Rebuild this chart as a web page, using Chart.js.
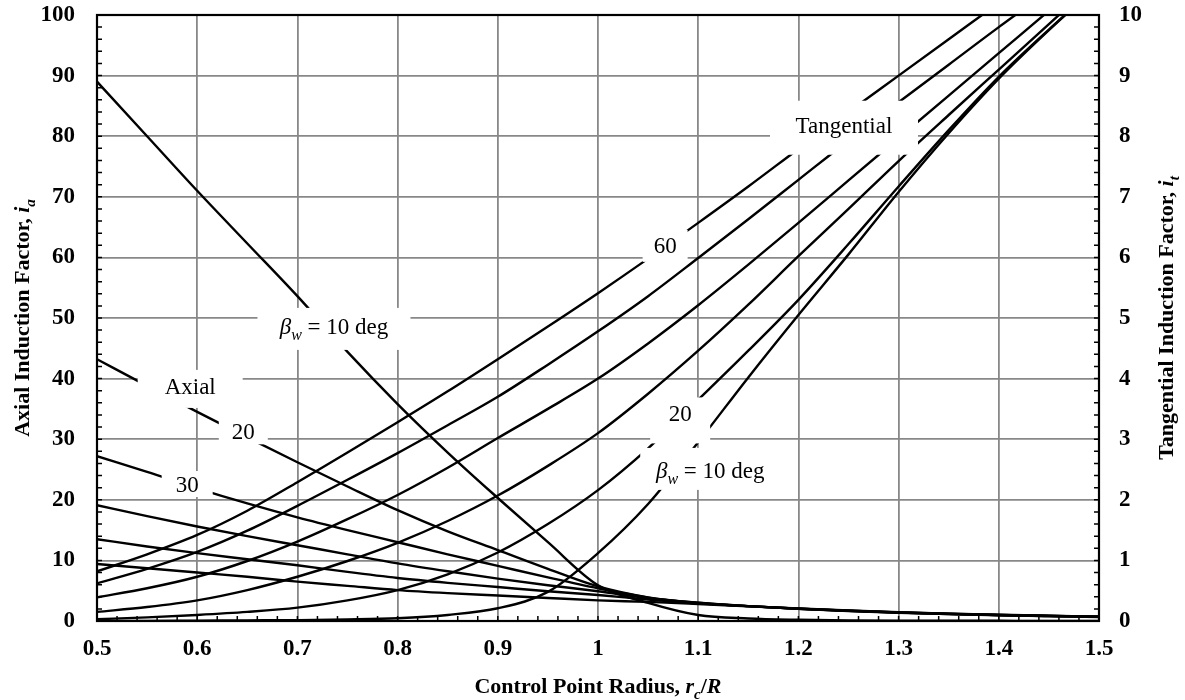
<!DOCTYPE html>
<html>
<head>
<meta charset="utf-8">
<script src="https://cdn.jsdelivr.net/npm/chart.js@4/dist/chart.umd.min.js"></script>
<style>
  body { margin: 0; background: #fff; }
  canvas { display: block; }
</style>
</head>
<body>
<canvas id="grafico" width="1185" height="700"></canvas>
<script>
// control point radius rc/R
const rc = [0.5, 0.55, 0.6, 0.65, 0.7, 0.75, 0.8, 0.85, 0.9, 0.95, 1.0, 1.05, 1.1, 1.15, 1.2, 1.25, 1.3, 1.35, 1.4, 1.45, 1.5];

// axial induction factor (left axis), one list per wake pitch angle
const ia10 = [89.0, 80.0, 71.0, 62.3, 53.6, 44.4, 35.8, 27.8, 20.3, 13.0, 5.9, 3.0, 1.0, 0.42, 0.2, 0.1, 0.06, 0.04, 0.03, 0.02, 0.02];
const ia20 = [43.2, 38.8, 34.5, 30.3, 26.2, 22.2, 18.3, 14.8, 11.7, 8.6, 5.7, 3.9, 3.0, 2.45, 2.0, 1.65, 1.37, 1.14, 0.95, 0.8, 0.67];
const ia30 = [27.2, 24.6, 21.9, 19.4, 17.1, 15.0, 13.0, 11.0, 9.1, 7.2, 5.4, 3.85, 3.0, 2.45, 2.02, 1.67, 1.39, 1.16, 0.97, 0.82, 0.69];
const ia40 = [19.1, 17.3, 15.6, 14.0, 12.5, 11.0, 9.5, 8.2, 7.0, 5.9, 4.9, 3.75, 2.95, 2.45, 2.03, 1.69, 1.41, 1.18, 0.99, 0.83, 0.7];
const ia50 = [13.5, 12.3, 11.2, 10.2, 9.2, 8.1, 7.1, 6.3, 5.6, 4.9, 4.3, 3.55, 2.9, 2.45, 2.05, 1.71, 1.43, 1.2, 1.0, 0.85, 0.72];
const ia60 = [9.4, 8.7, 8.0, 7.3, 6.5, 5.8, 5.1, 4.6, 4.2, 3.8, 3.4, 3.15, 2.8, 2.42, 2.06, 1.73, 1.45, 1.22, 1.02, 0.86, 0.73];

// tangential induction factor (right axis)
const it10 = [0.0, 0.0, 0.005, 0.01, 0.015, 0.025, 0.045, 0.10, 0.21, 0.48, 1.12, 1.93, 2.95, 4.02, 5.05, 6.05, 7.08, 8.05, 8.95, 9.75, 10.5];
const it20 = [0.03, 0.06, 0.10, 0.15, 0.22, 0.34, 0.51, 0.77, 1.13, 1.60, 2.16, 2.85, 3.65, 4.46, 5.30, 6.22, 7.17, 8.10, 8.98, 9.76, 10.5];
const it30 = [0.15, 0.23, 0.34, 0.51, 0.73, 0.99, 1.29, 1.65, 2.07, 2.56, 3.10, 3.75, 4.46, 5.22, 6.02, 6.80, 7.59, 8.35, 9.10, 9.85, 10.6];
const it40 = [0.39, 0.54, 0.73, 0.99, 1.31, 1.68, 2.08, 2.53, 3.02, 3.50, 4.00, 4.58, 5.21, 5.88, 6.57, 7.27, 7.97, 8.67, 9.37, 10.07, null];
const it50 = [0.62, 0.86, 1.14, 1.49, 1.90, 2.33, 2.77, 3.23, 3.70, 4.23, 4.78, 5.36, 5.99, 6.63, 7.28, 7.93, 8.56, 9.18, 9.80, 10.40, null];
const it60 = [0.82, 1.10, 1.42, 1.82, 2.29, 2.78, 3.28, 3.79, 4.32, 4.86, 5.41, 5.98, 6.57, 7.17, 7.79, 8.40, 9.00, 9.60, 10.2, null, null];

const SERIF = '"Liberation Serif", "Times New Roman", serif';

// curve labels, placed in data units of x / left axis; box size in px
const curveLabels = [
    { x: 0.7365, y: 48.2, w: 153, h: 42, dy: -2, parts: [{ t: 'β', it: true }, { t: 'w', it: true, sub: true }, { t: ' = 10 deg' }] },
    { x: 0.593, y: 38.3, w: 105, h: 38, dy: -2, parts: [{ t: 'Axial' }] },
    { x: 0.646, y: 31.3, w: 49, h: 26, dy: 0, parts: [{ t: '20' }] },
    { x: 0.590, y: 22.6, w: 51, h: 26, dy: 0, parts: [{ t: '30' }] },
    { x: 1.067, y: 61.9, w: 45, h: 32, dy: 0, parts: [{ t: '60' }] },
    { x: 1.2455, y: 81.4, w: 148, h: 54, dy: -2, parts: [{ t: 'Tangential' }] },
    { x: 1.082, y: 33.1, w: 60, h: 46, dy: -7, parts: [{ t: '20' }] },
    { x: 1.112, y: 25.1, w: 140, h: 42, dy: 2, parts: [{ t: 'β', it: true }, { t: 'w', it: true, sub: true }, { t: ' = 10 deg' }] }
];

function drawRich(ctx, parts, cx, cy, size, weight, rotate) {
    ctx.save();
    ctx.translate(cx, cy);
    if (rotate) ctx.rotate(-Math.PI / 2);
    var fontOf = p => (p.it ? 'italic ' : '') + weight + ' ' + (p.sub ? Math.round(size * 0.68) : size) + 'px ' + SERIF;
    var total = 0;
    parts.forEach(p => {
        ctx.font = fontOf(p);
        p.w = ctx.measureText(p.t).width;
        total += p.w;
    });
    var xx = -total / 2;
    ctx.fillStyle = '#000';
    ctx.textBaseline = 'alphabetic';
    ctx.textAlign = 'left';
    parts.forEach(p => {
        ctx.font = fontOf(p);
        ctx.fillText(p.t, xx, size * 0.33 + (p.sub ? size * 0.24 : 0));
        xx += p.w;
    });
    ctx.restore();
}

const frameAndLabels = {
    id: 'frameAndLabels',
    afterDatasetsDraw(chart) {
        const { ctx, chartArea: a } = chart;
        const x = chart.scales.x, y = chart.scales.y, y1 = chart.scales.y1;

        // white label boxes over lines and grid
        curveLabels.forEach(l => {
            var px = x.getPixelForValue(l.x);
            var py = y.getPixelForValue(l.y);
            ctx.fillStyle = '#fff';
            ctx.fillRect(px - l.w / 2, py - l.h / 2, l.w, l.h);
            drawRich(ctx, l.parts, px, py + l.dy, 23, 'normal', false);
        });

        // minor ticks, pointing inward
        ctx.save();
        ctx.strokeStyle = '#000';
        ctx.lineWidth = 1.5;
        ctx.beginPath();
        for (var i = 0; i <= 50; i++) {
            var px = x.getPixelForValue(0.5 + i * 0.02);
            ctx.moveTo(px, a.bottom);
            ctx.lineTo(px, a.bottom - 5);
        }
        for (var j = 0; j <= 50; j++) {
            var py = y.getPixelForValue(j * 2);
            ctx.moveTo(a.left, py);
            ctx.lineTo(a.left + 5, py);
            var py1 = y1.getPixelForValue(j * 0.2);
            ctx.moveTo(a.right, py1);
            ctx.lineTo(a.right - 5, py1);
        }
        ctx.stroke();

        // plot frame
        ctx.lineWidth = 2.2;
        ctx.strokeRect(a.left, a.top, a.right - a.left, a.bottom - a.top);
        ctx.restore();
    },
    afterDraw(chart) {
        const ctx = chart.ctx;
        drawRich(ctx, [{ t: 'Control Point Radius, ' }, { t: 'r', it: true }, { t: 'c', it: true, sub: true }, { t: '/' }, { t: 'R', it: true }], 598, 686, 22, 'bold', false);
        drawRich(ctx, [{ t: 'Axial Induction Factor, ' }, { t: 'i', it: true }, { t: 'a', it: true, sub: true }], 22, 318, 22, 'bold', true);
        drawRich(ctx, [{ t: 'Tangential Induction Factor, ' }, { t: 'i', it: true }, { t: 't', it: true, sub: true }], 1166, 318, 22, 'bold', true);
    }
};

function serie(vals, eixo) {
    return {
        data: rc.map((r, i) => ({ x: r, y: vals[i] })),
        yAxisID: eixo,
        borderColor: '#000',
        borderWidth: 2.4,
        pointRadius: 0,
        fill: false,
        cubicInterpolationMode: 'monotone',
        clip: 0
    };
}

const tickFont = { family: SERIF, size: 23, weight: 'bold' };

// fixed axis sizes so the plot area sits where the original one does
function fixVertical(width) {
    return s => {
        s.width = width;
        s.paddingTop = 0;
        s.paddingBottom = 0;
    };
}

new Chart(document.getElementById('grafico'), {
    type: 'line',
    data: {
        datasets: [
            serie(ia10, 'y'), serie(ia20, 'y'), serie(ia30, 'y'),
            serie(ia40, 'y'), serie(ia50, 'y'), serie(ia60, 'y'),
            serie(it10, 'y1'), serie(it20, 'y1'), serie(it30, 'y1'),
            serie(it40, 'y1'), serie(it50, 'y1'), serie(it60, 'y1')
        ]
    },
    options: {
        responsive: false,
        animation: false,
        devicePixelRatio: 1,
        layout: { padding: { top: 15, left: 0, right: 0, bottom: 0 } },
        plugins: { legend: { display: false }, tooltip: { enabled: false } },
        scales: {
            x: {
                type: 'linear',
                min: 0.5,
                max: 1.5,
                ticks: {
                    stepSize: 0.1,
                    padding: 14,
                    color: '#000',
                    font: tickFont,
                    maxRotation: 0,
                    autoSkip: false,
                    callback: v => String(Math.round(v * 10) / 10)
                },
                grid: { color: '#888', lineWidth: 1.8, drawTicks: false },
                border: { display: false },
                afterFit: s => {
                    s.height = 79;
                    s.paddingLeft = 0;
                    s.paddingRight = 0;
                }
            },
            y: {
                position: 'left',
                min: 0,
                max: 100,
                ticks: { stepSize: 10, padding: 22, color: '#000', font: tickFont },
                grid: { color: '#888', lineWidth: 1.8, drawTicks: false },
                border: { display: false },
                afterFit: fixVertical(97)
            },
            y1: {
                position: 'right',
                min: 0,
                max: 10,
                ticks: { stepSize: 1, padding: 20, color: '#000', font: tickFont },
                grid: { display: false, drawTicks: false },
                border: { display: false },
                afterFit: fixVertical(86)
            }
        }
    },
    plugins: [frameAndLabels]
});
</script>
</body>
</html>
